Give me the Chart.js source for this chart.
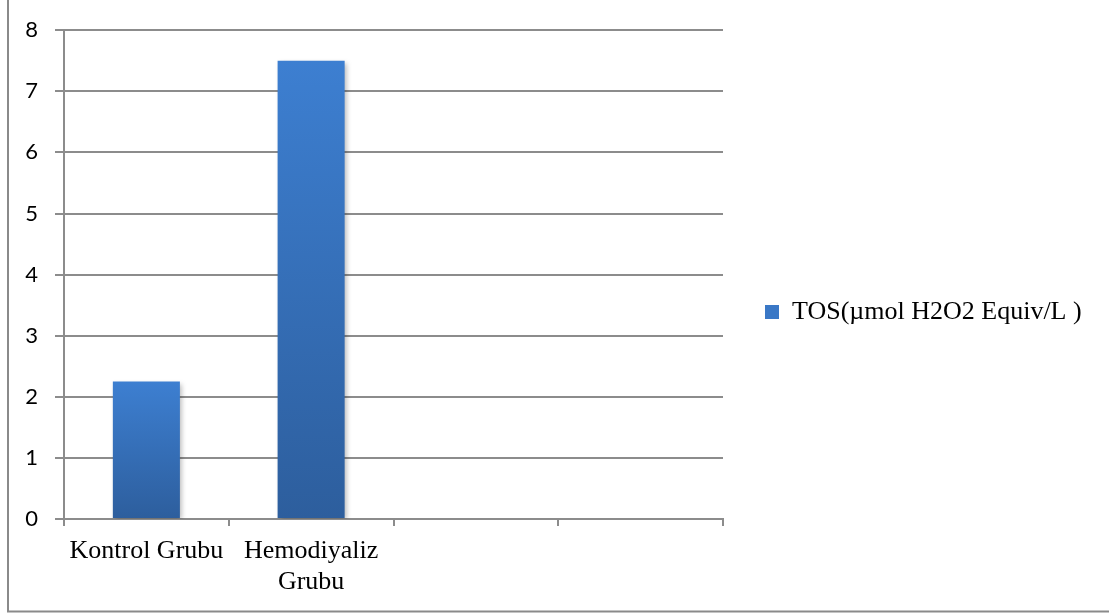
<!DOCTYPE html>
<html>
<head>
<meta charset="utf-8">
<script src="https://cdn.jsdelivr.net/npm/chart.js@4/dist/chart.umd.min.js"></script>
<style>
  html, body { margin: 0; padding: 0; background: #ffffff; }
  #c { display: block; }
</style>
</head>
<body>
<canvas id="c" width="1109" height="613"></canvas>
<script>
// Groups on the x axis (the last two slots are left empty)
const categories = ['Kontrol Grubu', ['Hemodiyaliz', 'Grubu'], '', ''];
// Series name shown in the legend
const seriesLabel = 'TOS(\u00b5mol H2O2 Equiv/L )';
// Mean TOS value per group
const tosValues = [2.25, 7.5, null, null];
// Value axis range and step
const yMin = 0;
const yMax = 8;
const yStep = 1;

const SERIF = '"Liberation Serif", "Times New Roman", serif';
const SANS = 'Lato, "Open Sans", sans-serif';
const AXIS_GREY = '#8c8c8c';
const CANVAS_W = 1109;
const PLOT_RIGHT = 723;
const LEGEND_PAD = 42;
const LEGEND_BOX = 14;
const LEGEND_FONT = 26;
const BOTTOM_PAD = 17;

// Work out the right padding so the plot ends where the legend column starts
const measureCtx = document.createElement('canvas').getContext('2d');
measureCtx.font = LEGEND_FONT + 'px ' + SERIF;
const legendTextW = measureCtx.measureText(seriesLabel).width;
const legendW = LEGEND_PAD + LEGEND_BOX + LEGEND_FONT / 2 + legendTextW + 10;
const rightPad = Math.max(0, CANVAS_W - PLOT_RIGHT - legendW);

// Vertical blue gradient, lighter at the top of each bar
function barGradient(context) {
  const chart = context.chart;
  const area = chart.chartArea;
  if (!area || context.type !== 'data' || context.raw == null) return '#3a78c6';
  const y = chart.scales.y;
  const top = y.getPixelForValue(context.raw);
  const base = y.getPixelForValue(0);
  const g = chart.ctx.createLinearGradient(0, top, 0, base);
  g.addColorStop(0, '#3d7fd1');
  g.addColorStop(1, '#2d5e9d');
  return g;
}

// Soft drop shadow behind the bars
const barShadow = {
  id: 'barShadow',
  beforeDatasetDraw(chart) {
    const ctx = chart.ctx;
    ctx.save();
    ctx.shadowColor = 'rgba(0,0,0,0.28)';
    ctx.shadowBlur = 5;
    ctx.shadowOffsetX = 2;
    ctx.shadowOffsetY = 2;
  },
  afterDatasetDraw(chart) {
    chart.ctx.restore();
  }
};

// Thin frame round the chart (left and bottom edges)
const frame = {
  id: 'frame',
  afterDraw(chart) {
    const ctx = chart.ctx;
    ctx.save();
    ctx.strokeStyle = '#8a8a8a';
    ctx.lineWidth = 2;
    ctx.beginPath();
    ctx.moveTo(8, 0);
    ctx.lineTo(8, 611.5);
    ctx.lineTo(chart.width, 611.5);
    ctx.stroke();
    ctx.restore();
  }
};

new Chart(document.getElementById('c'), {
  type: 'bar',
  data: {
    labels: categories,
    datasets: [{
      label: seriesLabel,
      data: tosValues,
      backgroundColor: barGradient,
      borderWidth: 0,
      barPercentage: 0.407,
      categoryPercentage: 1.0
    }]
  },
  options: {
    responsive: false,
    devicePixelRatio: 1,
    animation: false,
    layout: { padding: { left: 0, top: 28, right: rightPad, bottom: BOTTOM_PAD } },
    plugins: {
      legend: {
        position: 'right',
        align: 'center',
        maxWidth: legendW + 20,
        labels: {
          boxWidth: LEGEND_BOX,
          boxHeight: LEGEND_BOX,
          padding: LEGEND_PAD,
          color: '#000000',
          font: { family: SERIF, size: LEGEND_FONT },
          generateLabels(chart) {
            const ds = chart.data.datasets[0];
            return [{
              text: ds.label,
              fillStyle: '#3a78c6',
              strokeStyle: '#3a78c6',
              lineWidth: 0,
              hidden: false,
              datasetIndex: 0
            }];
          }
        }
      },
      tooltip: { enabled: false }
    },
    scales: {
      x: {
        type: 'category',
        afterFit(scale) { scale.height = 94 - BOTTOM_PAD; },
        grid: {
          offset: true,
          drawOnChartArea: false,
          drawTicks: true,
          tickLength: 7,
          color: AXIS_GREY,
          lineWidth: 2
        },
        border: { display: true, color: AXIS_GREY, width: 2 },
        ticks: {
          autoSkip: false,
          maxRotation: 0,
          minRotation: 0,
          padding: 9,
          color: '#000000',
          font: { family: SERIF, size: 26, lineHeight: 1.22 }
        }
      },
      y: {
        min: yMin,
        max: yMax,
        afterFit(scale) { scale.width = 64; },
        grid: {
          color: AXIS_GREY,
          lineWidth: 2,
          tickLength: 9,
          drawTicks: true
        },
        border: { display: true, color: AXIS_GREY, width: 2 },
        ticks: {
          stepSize: yStep,
          padding: 17,
          color: '#000000',
          font: { family: SANS, size: 22 }
        }
      }
    }
  },
  plugins: [barShadow, frame]
});
</script>
</body>
</html>
